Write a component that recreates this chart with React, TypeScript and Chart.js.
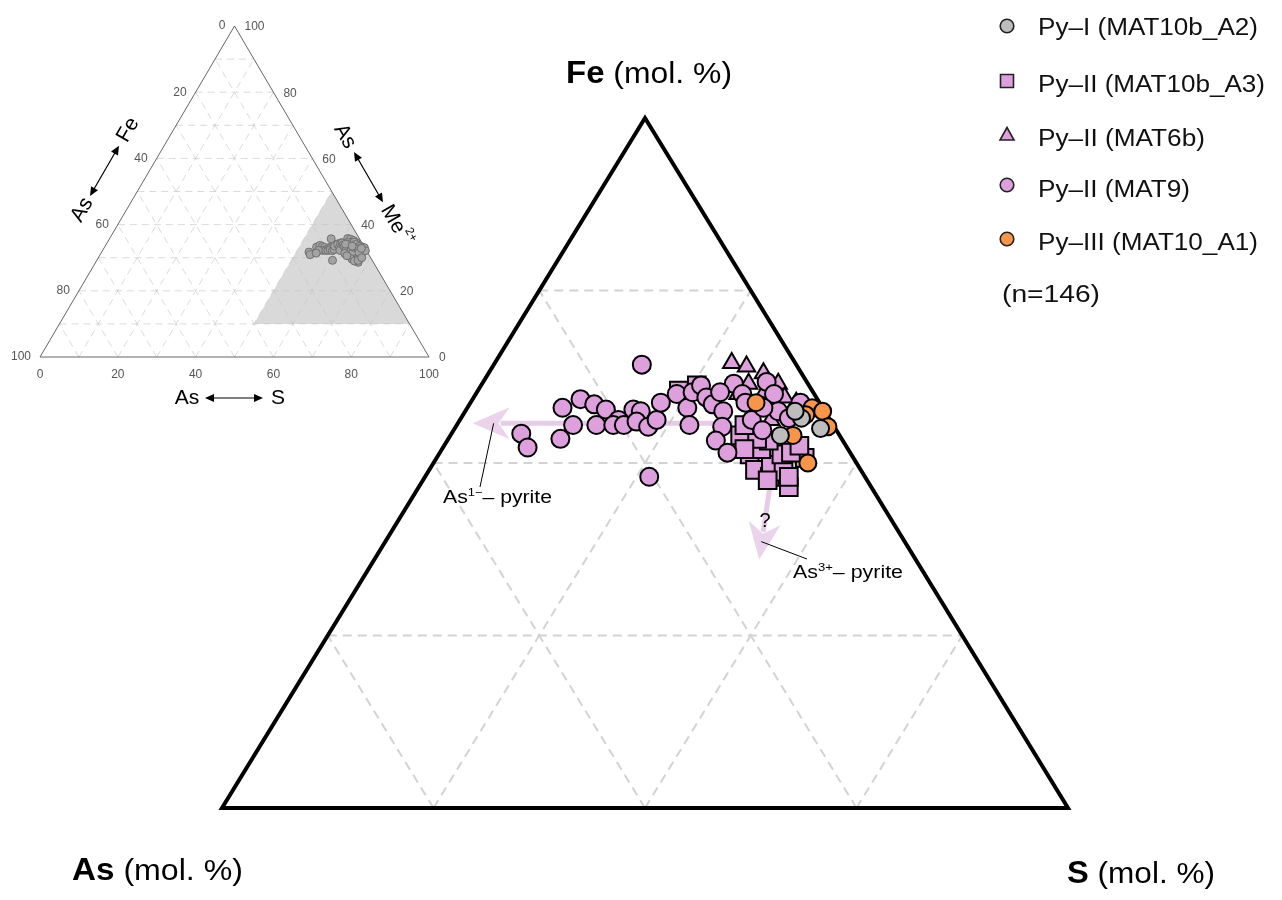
import React, { useEffect, useRef } from "react";
import { Chart, registerables } from "chart.js";
Chart.register(...registerables);

// ---------------- DATA (mol. %) : Fe and S per analysis, As = 100 - Fe - S ----------------
const PY1_A2_FE = [31.6, 32.6, 32.0, 33.0];
const PY1_A2_S = [65.6, 66.1, 67.3, 65.6];

const PY2_A3_FE = [34.2, 31.6, 30.5, 29.6, 29.2, 29.9, 28.6, 29.5, 30.3, 30.8, 30.5, 30.6, 31.3, 31.4, 32.2, 31.0, 34.5, 30.8, 29.0, 29.2];
const PY2_A3_S = [59.5, 63.7, 64.7, 65.4, 66.3, 66.0, 67.5, 66.8, 67.4, 65.1, 66.2, 66.6, 65.2, 64.6, 63.6, 66.8, 60.2, 64.3, 66.3, 67.2];

const PY2_6B_FE = [35.8, 35.6, 35.2, 34.6, 34.6, 34.0, 33.5, 33.8, 34.1, 33.1, 32.5];
const PY2_6B_S = [61.2, 62.0, 63.0, 62.6, 64.0, 62.4, 65.4, 64.7, 63.6, 66.0, 64.7];

const PY2_9_FE = [35.7, 33.2, 33.7, 33.4, 33.1, 32.5, 32.2, 32.2, 31.7, 30.9, 31.4, 32.2, 32.2, 33.1, 33.0, 32.4, 32.1, 32.5, 33.5, 34.0, 33.2, 34.1, 32.2, 29.2, 34.5, 33.8, 33.4, 33.0, 32.1, 31.3, 30.6, 34.6, 34.0, 33.5, 32.5, 31.9, 34.7, 34.0, 33.0, 33.2, 33.5, 32.6, 34.1];
const PY2_9_S = [57.0, 54.5, 55.1, 55.9, 56.6, 57.5, 56.6, 55.5, 53.3, 54.0, 55.3, 57.4, 57.9, 57.9, 58.3, 58.4, 59.1, 59.3, 59.0, 59.5, 60.4, 60.2, 61.0, 60.6, 60.4, 61.0, 61.5, 62.2, 62.6, 62.7, 63.6, 61.9, 62.6, 63.0, 63.8, 64.6, 63.4, 64.1, 64.8, 64.0, 65.6, 65.5, 61.5];

const PY3_A1_FE = [33.5, 33.2, 33.0, 32.1, 31.6, 30.0, 32.8];
const PY3_A1_S = [63.5, 66.3, 66.9, 67.6, 66.2, 67.7, 66.2];

// trend arrows (Fe, S in mol. %)
const ARROW_AS1_FE = [32.3, 32.3];
const ARROW_AS1_S = [63.0, 50.7];
const ARROW_AS3_FE = [28.6, 24.4];
const ARROW_AS3_S = [66.6, 68.2];

// zoom window of the main diagram (vertices Fe/S)
const ZOOM_FE = [10, 10, 50];
const ZOOM_S = [50, 90, 50];

// grid values
const MAIN_GRID_FE = [20, 30, 40];
const MAIN_GRID_S = [60, 70, 80];
const MAIN_GRID_AS = [10, 20, 30];
const INSET_GRID = [10, 20, 30, 40, 50, 60, 70, 80, 90];
const INSET_TICKS = [0, 20, 40, 60, 80, 100];

const LEGEND_LABELS = ["Py–I (MAT10b_A2)", "Py–II (MAT10b_A3)", "Py–II (MAT6b)", "Py–II (MAT9)", "Py–III (MAT10_A1)"];
const N_LABEL = "(n=146)";

// ---------------- styling / layout ----------------
const FF = '"Liberation Sans", Arial, Helvetica, sans-serif';
const PINK = "#DDA0DD";
const ORANGE = "#F7964A";
const GREY = "#BDBDBD";
const MAIN = { left: 222, right: 1068, top: 118, bottom: 808 };
const INSET = { left: 40, right: 429, top: 26, bottom: 357 };

const toXY = (fe: number, s: number) => ({ x: s + fe / 2, y: fe });
const pts = (fe: number[], s: number[]) => fe.map((f, i) => toXY(f, s[i]));

type Seg = { t: string; font: string; dy?: number };
function drawRich(ctx: CanvasRenderingContext2D, segs: Seg[], x: number, y: number, align: "left" | "center" | "right", target?: number) {
  let w = 0;
  for (const s of segs) { ctx.font = s.font; w += ctx.measureText(s.t).width; }
  const sx = target ? target / w : 1;
  ctx.save();
  ctx.translate(x, y);
  ctx.scale(sx, 1);
  let cx = align === "left" ? 0 : align === "center" ? -w / 2 : -w;
  ctx.textAlign = "left";
  for (const s of segs) {
    ctx.font = s.font;
    ctx.fillText(s.t, cx, s.dy || 0);
    cx += ctx.measureText(s.t).width;
  }
  ctx.restore();
}

function doubleArrow(ctx: CanvasRenderingContext2D, x1: number, x2: number) {
  ctx.beginPath(); ctx.moveTo(x1 + 4, 0); ctx.lineTo(x2 - 4, 0); ctx.stroke();
  ctx.beginPath(); ctx.moveTo(x1, 0); ctx.lineTo(x1 + 9, -4); ctx.lineTo(x1 + 9, 4); ctx.closePath(); ctx.fill();
  ctx.beginPath(); ctx.moveTo(x2, 0); ctx.lineTo(x2 - 9, -4); ctx.lineTo(x2 - 9, 4); ctx.closePath(); ctx.fill();
}

function stealthArrow(ctx: CanvasRenderingContext2D, x0: number, y0: number, x1: number, y1: number) {
  const ang = Math.atan2(y1 - y0, x1 - x0);
  const len = Math.hypot(x1 - x0, y1 - y0);
  ctx.save();
  ctx.translate(x1, y1);
  ctx.rotate(ang);
  ctx.strokeStyle = "rgba(214,170,214,0.6)";
  ctx.fillStyle = "rgba(222,184,222,0.6)";
  ctx.lineWidth = 5;
  ctx.beginPath(); ctx.moveTo(-len, 0); ctx.lineTo(-28, 0); ctx.stroke();
  ctx.beginPath();
  ctx.moveTo(0, 0); ctx.lineTo(-37, -16); ctx.lineTo(-26, 0); ctx.lineTo(-37, 16); ctx.closePath();
  ctx.fill();
  ctx.restore();
}

const decor = {
  id: "decor",
  beforeDraw(chart: any) {
    const ctx = chart.ctx as CanvasRenderingContext2D;
    ctx.save(); ctx.fillStyle = "#fff"; ctx.fillRect(0, 0, chart.width, chart.height); ctx.restore();
  },
  beforeDatasetsDraw(chart: any) {
    const ctx = chart.ctx as CanvasRenderingContext2D;
    const P = (xs: string, ys: string, fe: number, s: number) => {
      const c = toXY(fe, s);
      return [chart.scales[xs].getPixelForValue(c.x), chart.scales[ys].getPixelForValue(c.y)];
    };
    const line = (xs: string, ys: string, a: number[], b: number[]) => {
      const p = P(xs, ys, a[0], a[1]); const q = P(xs, ys, b[0], b[1]);
      ctx.beginPath(); ctx.moveTo(p[0], p[1]); ctx.lineTo(q[0], q[1]); ctx.stroke();
    };
    ctx.save();
    // ---------- inset ----------
    ctx.fillStyle = "#D9D9D9";
    ctx.beginPath();
    ZOOM_FE.forEach((f, i) => { const p = P("x2", "y2", f, ZOOM_S[i]); i ? ctx.lineTo(p[0], p[1]) : ctx.moveTo(p[0], p[1]); });
    ctx.closePath(); ctx.fill();
    ctx.strokeStyle = "rgba(195,195,195,0.6)"; ctx.lineWidth = 1; ctx.setLineDash([7, 5]);
    for (const v of INSET_GRID) {
      line("x2", "y2", [v, 0], [v, 100 - v]);
      line("x2", "y2", [0, v], [100 - v, v]);
      line("x2", "y2", [0, 100 - v], [100 - v, 0]);
    }
    ctx.setLineDash([]);
    ctx.strokeStyle = "#666"; ctx.lineWidth = 1;
    ctx.beginPath();
    [[0, 0], [0, 100], [100, 0]].forEach((c, i) => { const p = P("x2", "y2", c[0], c[1]); i ? ctx.lineTo(p[0], p[1]) : ctx.moveTo(p[0], p[1]); });
    ctx.closePath(); ctx.stroke();
    // inset tick labels
    ctx.fillStyle = "#555"; ctx.font = `12px ${FF}`; ctx.textBaseline = "middle";
    for (const v of INSET_TICKS) {
      const l = P("x2", "y2", 100 - v, 0);
      ctx.textAlign = "right"; ctx.fillText(String(v), l[0] - 9, l[1]);
      const r = P("x2", "y2", v, 100 - v);
      ctx.textAlign = "left"; ctx.fillText(String(v), r[0] + 10, r[1] + 1);
      const b = P("x2", "y2", 0, v);
      ctx.textAlign = "center"; ctx.fillText(String(v), b[0], b[1] + 18);
    }
    // inset axis titles
    ctx.fillStyle = "#000"; ctx.strokeStyle = "#000"; ctx.lineWidth = 1.2;
    ctx.font = `21px ${FF}`; ctx.textBaseline = "middle";
    // left
    ctx.save(); ctx.translate(105, 170); ctx.rotate(-Math.PI / 3);
    ctx.textAlign = "center"; ctx.fillText("As", -46, 0);
    doubleArrow(ctx, -30, 28);
    ctx.textAlign = "left"; ctx.fillText("Fe", 34, 0);
    ctx.restore();
    // right
    ctx.save(); ctx.translate(369, 178); ctx.rotate(Math.PI / 3);
    ctx.textAlign = "center"; ctx.fillText("As", -48, 0);
    doubleArrow(ctx, -30, 28);
    ctx.textAlign = "left"; ctx.fillText("Me", 33, 0);
    const mw = ctx.measureText("Me").width;
    ctx.font = `12px ${FF}`; ctx.fillText("2+", 33 + mw + 1, -8);
    ctx.restore();
    // bottom
    ctx.save(); ctx.translate(0, 398); ctx.font = `21px ${FF}`;
    ctx.textAlign = "center"; ctx.fillText("As", 187, 0);
    doubleArrow(ctx, 205, 263);
    ctx.fillText("S", 278, 0);
    ctx.restore();

    // ---------- main diagram ----------
    ctx.strokeStyle = "#D3D3D3"; ctx.lineWidth = 2; ctx.setLineDash([9, 6]);
    for (const f of MAIN_GRID_FE) line("x", "y", [f, 50], [f, 100 - f]);
    for (const s of MAIN_GRID_S) line("x", "y", [10, s], [100 - s, s]);
    for (const a of MAIN_GRID_AS) line("x", "y", [10, 90 - a], [50 - a, 50]);
    ctx.setLineDash([]);
    ctx.strokeStyle = "#000"; ctx.lineWidth = 4; ctx.lineJoin = "miter";
    ctx.beginPath();
    ZOOM_FE.forEach((f, i) => { const p = P("x", "y", f, ZOOM_S[i]); i ? ctx.lineTo(p[0], p[1]) : ctx.moveTo(p[0], p[1]); });
    ctx.closePath(); ctx.stroke();
    // arrows
    const a0 = P("x", "y", ARROW_AS1_FE[0], ARROW_AS1_S[0]), a1 = P("x", "y", ARROW_AS1_FE[1], ARROW_AS1_S[1]);
    stealthArrow(ctx, a0[0], a0[1], a1[0], a1[1]);
    const b0 = P("x", "y", ARROW_AS3_FE[0], ARROW_AS3_S[0]), b1 = P("x", "y", ARROW_AS3_FE[1], ARROW_AS3_S[1]);
    stealthArrow(ctx, b0[0], b0[1], b1[0], b1[1]);
    // leader lines
    ctx.strokeStyle = "#000"; ctx.lineWidth = 1;
    ctx.beginPath(); ctx.moveTo(a1[0] + 21, a1[1]); ctx.lineTo(480, 487); ctx.stroke();
    ctx.beginPath(); ctx.moveTo(b1[0] + 2, b1[1] - 18); ctx.lineTo(807, 559); ctx.stroke();
    ctx.restore();
  },
  afterDatasetsDraw(chart: any) {
    const ctx = chart.ctx as CanvasRenderingContext2D;
    ctx.save();
    ctx.fillStyle = "#000"; ctx.textBaseline = "alphabetic";
    // annotations
    drawRich(ctx, [{ t: "As", font: `18px ${FF}` }, { t: "1−", font: `11px ${FF}`, dy: -7 }, { t: "– pyrite", font: `18px ${FF}` }], 443, 503, "left", 109);
    drawRich(ctx, [{ t: "As", font: `18px ${FF}` }, { t: "3+", font: `11px ${FF}`, dy: -7 }, { t: "– pyrite", font: `18px ${FF}` }], 793, 578, "left", 110);
    drawRich(ctx, [{ t: "?", font: `20px ${FF}` }], 765, 527, "center");
    // axis titles
    drawRich(ctx, [{ t: "Fe", font: `bold 31px ${FF}` }, { t: " (mol. %)", font: `30px ${FF}` }], 566, 83, "left", 166);
    drawRich(ctx, [{ t: "As", font: `bold 31px ${FF}` }, { t: " (mol. %)", font: `30px ${FF}` }], 72, 880, "left", 171);
    drawRich(ctx, [{ t: "S", font: `bold 31px ${FF}` }, { t: " (mol. %)", font: `30px ${FF}` }], 1067, 883, "left", 148);
    // legend
    const baselines = [35, 92, 146, 197, 250];
    const markY = [26, 81, 135, 185, 239];
    const widths = [220, 227, 167, 152, 220];
    const fills = [GREY, PINK, PINK, PINK, ORANGE];
    const shapes = ["circle", "rect", "triangle", "circle", "circle"];
    LEGEND_LABELS.forEach((lab, i) => {
      const x = 1007, y = markY[i];
      ctx.fillStyle = fills[i]; ctx.strokeStyle = "#222"; ctx.lineWidth = 1.6;
      ctx.beginPath();
      if (shapes[i] === "circle") ctx.arc(x, y, 6.8, 0, Math.PI * 2);
      else if (shapes[i] === "rect") ctx.rect(x - 6.5, y - 6.5, 13, 13);
      else { ctx.moveTo(x, y - 7.5); ctx.lineTo(x + 7, y + 5); ctx.lineTo(x - 7, y + 5); ctx.closePath(); }
      ctx.fill(); ctx.stroke();
      ctx.fillStyle = "#111";
      drawRich(ctx, [{ t: lab, font: `23px ${FF}` }], 1038, baselines[i], "left", widths[i]);
    });
    drawRich(ctx, [{ t: N_LABEL, font: `23px ${FF}` }], 1002, 302, "left", 98);
    ctx.restore();
  },
};

export default function App() {
  const ref = useRef<HTMLCanvasElement>(null);
  useEffect(() => {
    const canvas = ref.current!;
    const ppx = (INSET.right - INSET.left) / 100;
    const ppy = (INSET.bottom - INSET.top) / 100;
    const x2min = -(INSET.left - MAIN.left) / ppx;
    const x2max = x2min + (MAIN.right - MAIN.left) / ppx;
    const y2min = -(MAIN.bottom - INSET.bottom) / ppy;
    const y2max = y2min + (MAIN.bottom - MAIN.top) / ppy;
    const allFe = [...PY1_A2_FE, ...PY2_A3_FE, ...PY2_6B_FE, ...PY2_9_FE, ...PY3_A1_FE];
    const allS = [...PY1_A2_S, ...PY2_A3_S, ...PY2_6B_S, ...PY2_9_S, ...PY3_A1_S];
    const base = { showLine: false, clip: false as any, pointBorderColor: "#000", pointBorderWidth: 2, xAxisID: "x", yAxisID: "y" };
    const datasets: any[] = [
      { ...base, label: LEGEND_LABELS[0], data: pts(PY1_A2_FE, PY1_A2_S), pointStyle: "circle", pointRadius: 8.5, pointBackgroundColor: GREY, order: 0 },
      { ...base, label: LEGEND_LABELS[4], data: pts(PY3_A1_FE, PY3_A1_S), pointStyle: "circle", pointRadius: 8.5, pointBackgroundColor: ORANGE, order: 1 },
      { ...base, label: LEGEND_LABELS[3], data: pts(PY2_9_FE, PY2_9_S), pointStyle: "circle", pointRadius: 9, pointBackgroundColor: PINK, order: 2 },
      { ...base, label: LEGEND_LABELS[2], data: pts(PY2_6B_FE, PY2_6B_S), pointStyle: "triangle", pointRadius: 10, pointBackgroundColor: PINK, order: 3 },
      { ...base, label: LEGEND_LABELS[1], data: pts(PY2_A3_FE, PY2_A3_S), pointStyle: "rect", pointRadius: 12.5, pointBackgroundColor: PINK, order: 4 },
      { label: "inset", data: pts(allFe, allS), xAxisID: "x2", yAxisID: "y2", showLine: false, clip: false, pointStyle: "circle", pointRadius: 4, pointBackgroundColor: "#A3A3A3", pointBorderColor: "#707070", pointBorderWidth: 1, order: 5 },
    ];
    const chart = new Chart(canvas, {
      type: "scatter",
      data: { datasets },
      options: {
        responsive: false,
        animation: false,
        events: [],
        devicePixelRatio: 1,
        layout: { padding: { left: MAIN.left, right: 1282 - MAIN.right, top: MAIN.top, bottom: 900 - MAIN.bottom } },
        plugins: { legend: { display: false }, tooltip: { enabled: false } },
        scales: {
          x: { type: "linear", min: 55, max: 95, display: false },
          y: { type: "linear", min: 10, max: 50, display: false },
          x2: { type: "linear", axis: "x", min: x2min, max: x2max, display: false },
          y2: { type: "linear", axis: "y", min: y2min, max: y2max, display: false },
        },
      } as any,
      plugins: [decor as any],
    });
    return () => chart.destroy();
  }, []);
  return (
    <div style={{ position: "absolute", left: 0, top: 0, width: 1282, height: 900, background: "#fff" }}>
      <canvas ref={ref} width={1282} height={900} style={{ display: "block", width: 1282, height: 900 }} />
    </div>
  );
}
